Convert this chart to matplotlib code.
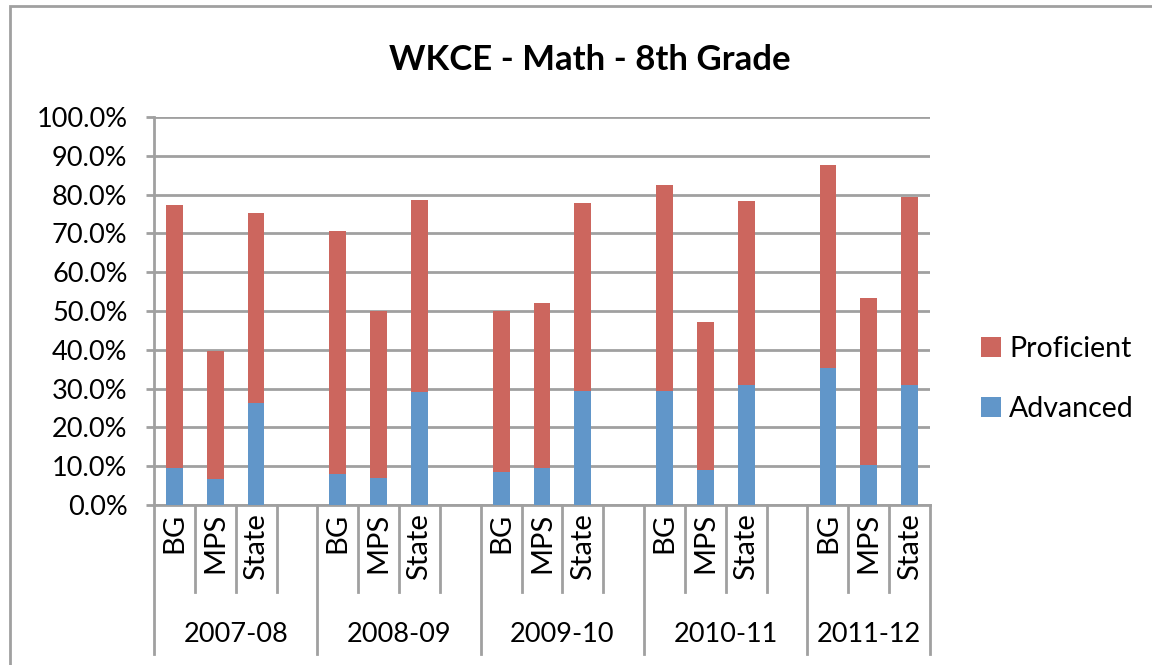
import numpy as np
import matplotlib.pyplot as plt
from matplotlib.patches import Rectangle
from matplotlib.transforms import blended_transform_factory

years = ['2007-08', '2008-09', '2009-10', '2010-11', '2011-12']
groups = ['BG', 'MPS', 'State']

# total (advanced + proficient) and advanced, in %
total = np.array([[77.2, 39.6, 75.3],
                  [70.5, 50.1, 78.5],
                  [50.1, 52.1, 77.9],
                  [82.4, 47.2, 78.3],
                  [87.6, 53.4, 79.3]])
advanced = np.array([[9.5, 6.6, 26.4],
                     [8.0, 6.9, 29.2],
                     [8.6, 9.5, 29.3],
                     [29.5, 9.1, 31.0],
                     [35.2, 10.2, 30.9]])
proficient = total - advanced

c_adv = '#6196C9'
c_prof = '#CC665E'
grid_c = '#A0A0A0'
font = ['Lato', 'DejaVu Sans']
plt.rcParams['font.family'] = font

W, H = 1152, 665
fig = plt.figure(figsize=(W / 100, H / 100), dpi=100)
ax = fig.add_axes([154 / W, (H - 505) / H, (930 - 154) / W, (505 - 117) / H])

x = np.array([g * 4 + i for g in range(len(years)) for i in range(len(groups))])
adv = advanced.ravel()
prof = proficient.ravel()
ax.bar(x, adv, width=0.41, color=c_adv, edgecolor='none', zorder=3, label='Advanced')
ax.bar(x, prof, width=0.41, bottom=adv, color=c_prof, edgecolor='none', zorder=3,
       label='Proficient')

ax.set_xlim(-0.5, 18.5)
ax.set_ylim(0, 100)
ax.set_yticks(np.arange(0, 101, 10))
ax.set_yticklabels(['%.1f%%' % v for v in np.arange(0, 101, 10)], fontsize=19.5)
ax.yaxis.grid(True, color=grid_c, lw=2)
ax.set_axisbelow(True)
ax.set_xticks([])
ax.tick_params(axis='y', length=6, width=2, color=grid_c, pad=13)
for s in ['top', 'right']:
    ax.spines[s].set_visible(False)
for s in ['left', 'bottom']:
    ax.spines[s].set_color(grid_c)
    ax.spines[s].set_linewidth(2)

# category axis: labels and divider lines
tr = blended_transform_factory(ax.transData, ax.transAxes)
for k in range(20):
    b = k - 0.5
    if b > 18.5:
        break
    long_line = (k % 4 == 0) or b == 18.5
    y1 = -0.385 if long_line else -0.225
    ax.plot([b, b], [0, y1], color=grid_c, lw=2, transform=tr, clip_on=False)
for xi, name in zip(x, groups * len(years)):
    ax.text(xi, -0.02, name, rotation=90, ha='center', va='top', fontsize=21,
            transform=tr)
for g, yr in enumerate(years):
    lo = g * 4 - 0.5
    hi = min(g * 4 + 3.5, 18.5)
    ax.text((lo + hi) / 2, -0.335, yr, ha='center', va='center', fontsize=19.5,
            transform=tr)

# legend
fig.legend(handles=[ax.containers[1], ax.containers[0]], labels=['Proficient', 'Advanced'],
           loc='center left', bbox_to_anchor=(955 / W, (H - 379) / H), frameon=False,
           fontsize=20.5, handlelength=0.7, handleheight=0.7, labelspacing=1.2,
           handletextpad=0.3)

fig.text(590 / W, (H - 60) / H, 'WKCE - Math - 8th Grade', ha='center', va='center',
         fontsize=25, fontweight='bold')

fig.patches.append(Rectangle((10 / W, -0.1), 1.2, (H - 6) / H + 0.1, transform=fig.transFigure,
                             fill=False, edgecolor=grid_c, lw=2))

fig.savefig('out.png', dpi=100)
